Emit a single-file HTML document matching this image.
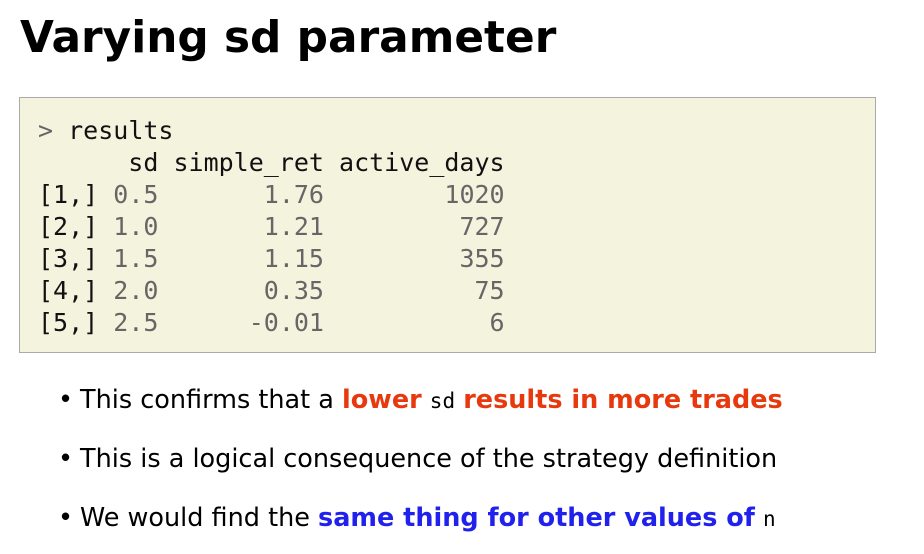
<!DOCTYPE html>
<html><head><meta charset="utf-8"><style>
html,body{margin:0;padding:0;background:#fff;width:924px;height:554px;overflow:hidden}
body{position:relative;font-family:"DejaVu Sans","Liberation Sans",sans-serif;color:#000}
h1{position:absolute;left:20px;top:12px;margin:0;font-size:43.8px;font-weight:bold;white-space:nowrap}
.code{position:absolute;left:19px;top:97px;width:857px;height:256px;background:#f4f3de;border:1px solid #aaa;box-sizing:border-box}
pre{position:absolute;left:18px;top:17px;margin:0;font-family:"DejaVu Sans Mono","Liberation Mono",monospace;font-size:25px;line-height:32px;color:#111}
.g{color:#666}
ul{position:absolute;left:58px;top:378px;margin:0;padding:0;list-style:none}
li{font-size:25.5px;height:59px;line-height:44px;white-space:nowrap}
li:before{content:"•";margin-right:7px}
.r{color:#e8390e;font-weight:bold}.b{color:#2121ee;font-weight:bold}
.m{font-family:"DejaVu Sans Mono",monospace;font-size:21px}
</style></head><body>
<h1>Varying sd parameter</h1>
<div class="code">
<pre><span class="g">&gt;</span> results
      sd simple_ret active_days
[1,] <span class="g">0.5       1.76        1020</span>
[2,] <span class="g">1.0       1.21         727</span>
[3,] <span class="g">1.5       1.15         355</span>
[4,] <span class="g">2.0       0.35          75</span>
[5,] <span class="g">2.5      -0.01           6</span></pre>
</div>
<ul>
<li>This confirms that a <span class="r">lower</span> <span class="m">sd</span> <span class="r">results in more trades</span></li>
<li>This is a logical consequence of the strategy definition</li>
<li>We would find the <span class="b">same thing for other values of</span> <span class="m">n</span></li>
</ul>
</body></html>
